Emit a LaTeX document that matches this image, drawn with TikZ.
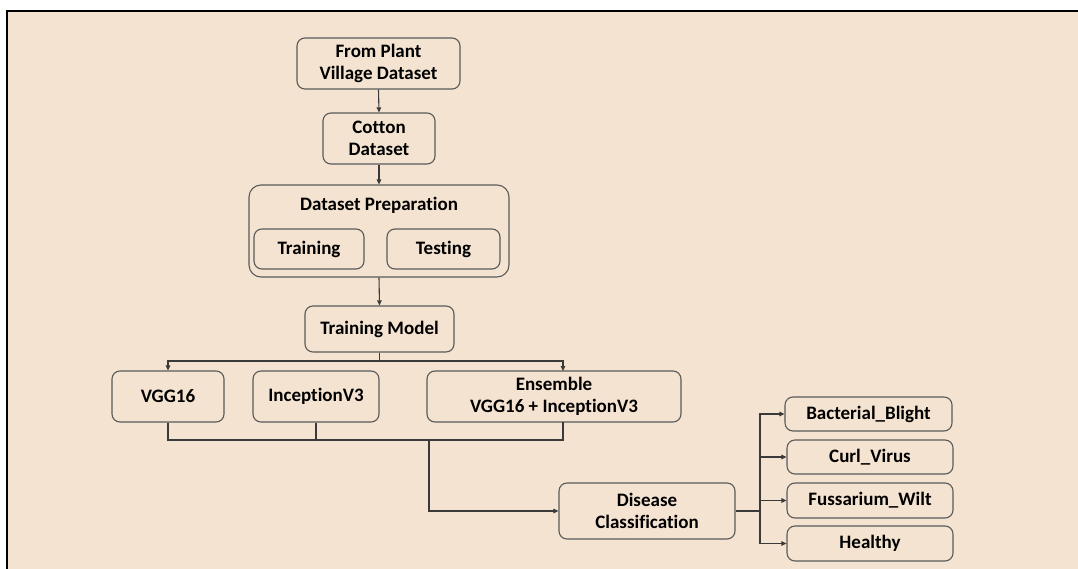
\documentclass[tikz,border=0pt]{standalone}
\usepackage{fontspec}
\setmainfont[Ligatures=NoCommon]{Carlito}
\usetikzlibrary{arrows.meta}
\definecolor{bg}{HTML}{F4E3D0}
\definecolor{boxline}{HTML}{5A5A5A}
\definecolor{conline}{HTML}{3A3A3A}
\tikzset{
  txt/.style={font=\fontsize{19}{22}\selectfont\bfseries},
  box/.style={txt, draw=boxline, line width=1.1pt, rounded corners=8pt, inner sep=0pt, align=center},
  con/.style={draw=conline, line width=1.1pt},
  arr/.style={con, -{Triangle[length=5pt,width=4.5pt]}},
}
\begin{document}
\begin{tikzpicture}[x=1pt,y=-1pt]
\useasboundingbox (0,0) rectangle (1078,569);
\fill[white] (0,0) rectangle (1078,569);
\fill[bg] (7,11) rectangle (1078,569);
\draw[black, line width=2pt] (7,569) -- (7,11) -- (1078,11);

\node[box, minimum width=163pt, minimum height=51pt] (fp) at (378.5,63.5) {From Plant\\Village Dataset};
\node[box, minimum width=112pt, minimum height=51pt] (cd) at (379,138.5) {Cotton\\Dataset};
\node[box, minimum width=260pt, minimum height=92pt, rounded corners=12pt] (dp) at (379,231) {};
\node[txt, inner sep=0pt] (dpt) at (379,205) {Dataset Preparation};
\node[box, minimum width=110pt, minimum height=40pt] (tr) at (309,249) {Training};
\node[box, minimum width=113pt, minimum height=40pt] (te) at (443.5,249) {Testing};
\node[box, minimum width=149pt, minimum height=46pt] (tm) at (379.5,329) {Training Model};
\node[box, minimum width=112pt, minimum height=51pt] (vgg) at (168,396.5) {VGG16};
\node[box, minimum width=126pt, minimum height=51pt] (inc) at (316,396.5) {InceptionV3};
\node[box, minimum width=254pt, minimum height=51pt] (ens) at (554,396.5) {Ensemble\\VGG16 + InceptionV3};
\node[box, minimum width=176pt, minimum height=56pt] (dc) at (647,511) {Disease\\Classification};
\node[box, minimum width=167pt, minimum height=34pt] (bb) at (868.5,414) {Bacterial\_Blight};
\node[box, minimum width=166pt, minimum height=34pt] (cv) at (870,457) {Curl\_Virus};
\node[box, minimum width=166pt, minimum height=35pt] (fw) at (870,500.5) {Fussarium\_Wilt};
\node[box, minimum width=166pt, minimum height=35pt] (he) at (870,543.5) {Healthy};

\draw[arr] (fp.south) -- (cd.north);
\draw[arr] (cd.south) -- (dp.north);
\draw[arr] (dp.south) -- (tm.north);

\coordinate (tb) at (379.5,361);
\coordinate (ensin) at (563,371);
\draw[con] (tm.south) -- (tb);
\draw[arr] (tb) -| (vgg.north);
\draw[arr] (tb) -| (ensin);

\coordinate (ensout) at (563,422);
\coordinate (j) at (429,440);
\draw[con] (vgg.south) |- (j);
\draw[con] (inc.south) |- (j);
\draw[con] (ensout) |- (j);
\draw[arr] (j) |- (dc.west);

\coordinate (bus) at (760,511);
\draw[con] (dc.east) -- (bus);
\draw[arr] (bus) |- (bb.west);
\draw[arr] (bus) |- (cv.west);
\draw[arr] (bus) |- (fw.west);
\draw[arr] (bus) |- (he.west);
\end{tikzpicture}
\end{document}
